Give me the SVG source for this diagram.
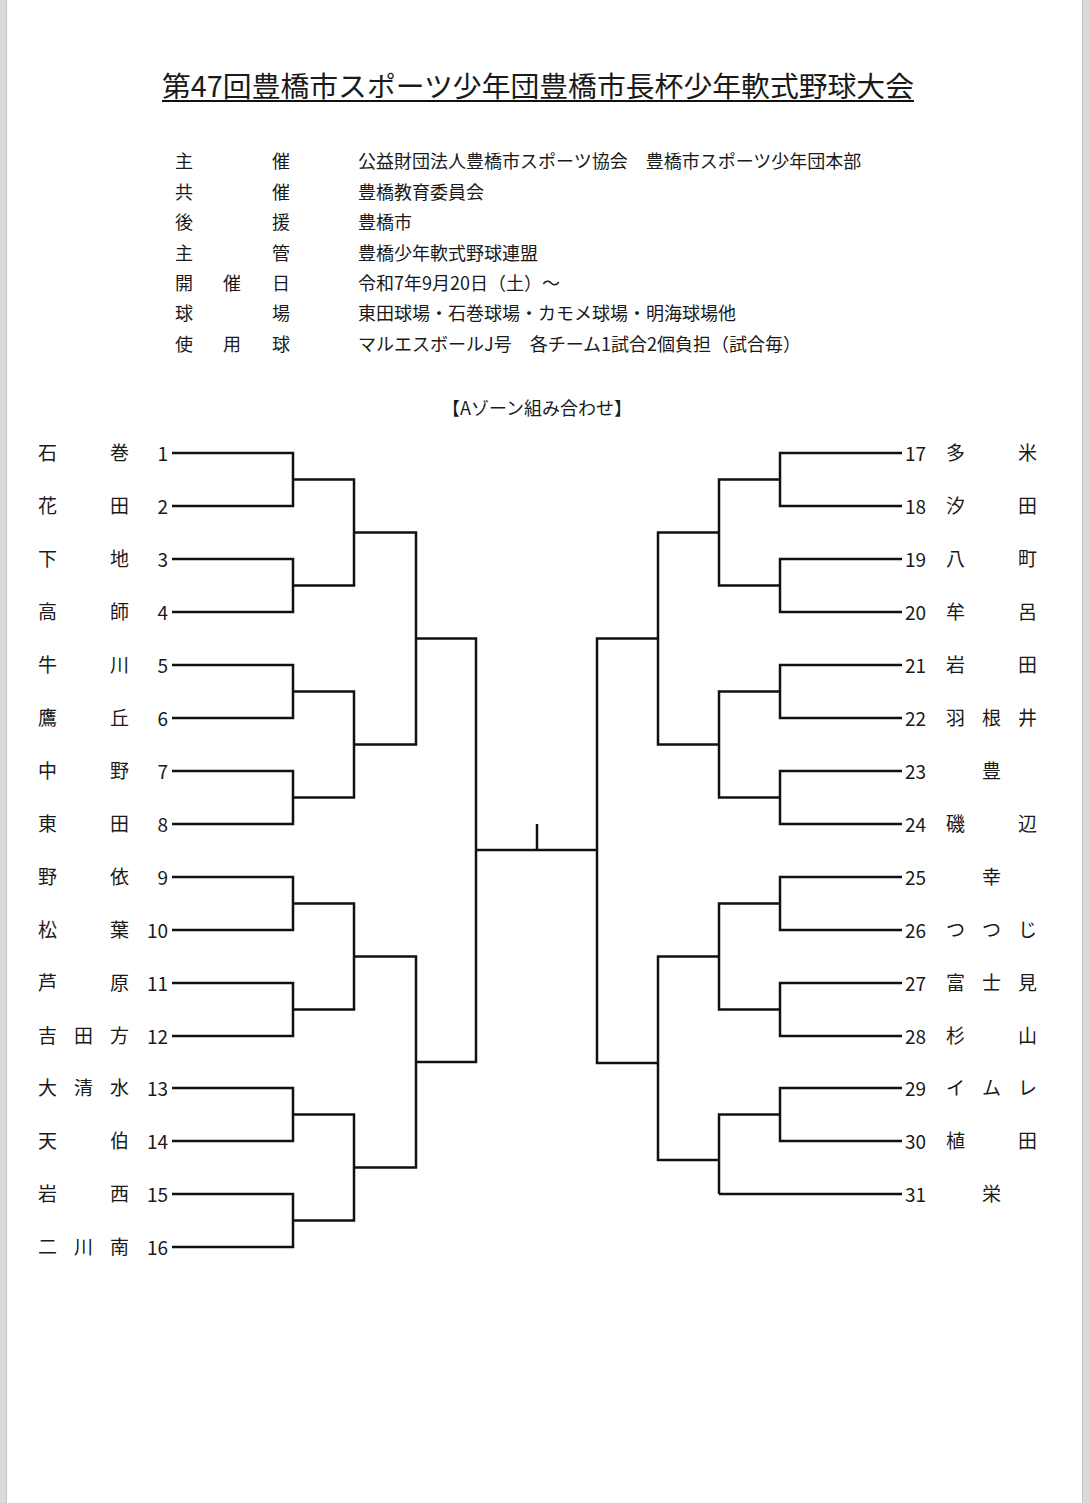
<svg xmlns="http://www.w3.org/2000/svg" width="1089" height="1503" viewBox="0 0 1089 1503">
<style>
.t{font-family:"Noto Sans CJK JP","Noto Sans",sans-serif;fill:#1a1a1a}
.nm{font-size:19px}
.num{font-size:19px}
.info{font-family:"Noto Sans CJK JP",sans-serif;font-size:18px;fill:#1a1a1a}
.ln{fill:none;stroke:#111;stroke-width:2.5;stroke-linejoin:miter;stroke-linecap:butt}
</style>
<rect x="0" y="0" width="1089" height="1503" fill="#ffffff"/>
<rect x="0" y="0" width="6" height="1503" fill="#dadada"/>
<rect x="6" y="0" width="1" height="1503" fill="#c4c4c4"/>
<rect x="1083" y="0" width="6" height="1503" fill="#dadada"/>
<rect x="1082" y="0" width="1" height="1503" fill="#c4c4c4"/>

<g id="title">
<text class="t" x="538" y="97" font-size="28" text-anchor="middle" textLength="752" lengthAdjust="spacingAndGlyphs">第47回豊橋市スポーツ少年団豊橋市長杯少年軟式野球大会</text>
<rect x="162" y="100" width="752" height="2" fill="#111"/>
</g>

<g id="info">
<text class="info" y="168"><tspan x="175">主</tspan><tspan x="272">催</tspan><tspan x="358">公益財団法人豊橋市スポーツ協会　豊橋市スポーツ少年団本部</tspan></text>
<text class="info" y="199"><tspan x="175">共</tspan><tspan x="272">催</tspan><tspan x="358">豊橋教育委員会</tspan></text>
<text class="info" y="229"><tspan x="175">後</tspan><tspan x="272">援</tspan><tspan x="358">豊橋市</tspan></text>
<text class="info" y="260"><tspan x="175">主</tspan><tspan x="272">管</tspan><tspan x="358">豊橋少年軟式野球連盟</tspan></text>
<text class="info" y="290"><tspan x="175">開</tspan><tspan x="223">催</tspan><tspan x="272">日</tspan><tspan x="358">令和7年9月20日（土）～</tspan></text>
<text class="info" y="320"><tspan x="175">球</tspan><tspan x="272">場</tspan><tspan x="358">東田球場・石巻球場・カモメ球場・明海球場他</tspan></text>
<text class="info" y="351"><tspan x="175">使</tspan><tspan x="223">用</tspan><tspan x="272">球</tspan><tspan x="358">マルエスボールJ号　各チーム1試合2個負担（試合毎）</tspan></text>
</g>

<g id="subtitle">
<text class="info" x="537" y="415" font-size="17" text-anchor="middle">【Aゾーン組み合わせ】</text>
</g>

<g id="connectors">
<path class="ln" d="M172 453H293V506H172M172 559H293V612H172M172 665H293V718H172M172 771H293V824H172M172 877H293V930H172M172 983H293V1036H172M172 1088H293V1141H172M172 1194H293V1247H172"/>
<path class="ln" d="M293 479.5H354V585.5H293M293 691.5H354V797.5H293M293 903.5H354V1009.5H293M293 1114.5H354V1220.5H293"/>
<path class="ln" d="M354 532.5H416V744.5H354M354 956.5H416V1167.5H354"/>
<path class="ln" d="M416 638.5H476V1062H416"/>
<path class="ln" d="M476 850H597M537 824V850"/>
<path class="ln" d="M902 453H780V506H902M902 559H780V612H902M902 665H780V718H902M902 771H780V824H902M902 877H780V930H902M902 983H780V1036H902M902 1088H780V1141H902M902 1194H719"/>
<path class="ln" d="M780 479.5H719V585.5H780M780 691.5H719V797.5H780M780 903.5H719V1009.5H780M780 1114.5H719V1194"/>
<path class="ln" d="M719 532.5H658V744.5H719M719 956.5H658V1160H719"/>
<path class="ln" d="M658 638.5H597V1063H658"/>
</g>

<g id="team1"><text class="t nm" y="460"><tspan x="38">石</tspan><tspan x="110">巻</tspan></text><text class="t num" x="168" y="461" text-anchor="end">1</text></g>
<g id="team2"><text class="t nm" y="513"><tspan x="38">花</tspan><tspan x="110">田</tspan></text><text class="t num" x="168" y="514" text-anchor="end">2</text></g>
<g id="team3"><text class="t nm" y="566"><tspan x="38">下</tspan><tspan x="110">地</tspan></text><text class="t num" x="168" y="567" text-anchor="end">3</text></g>
<g id="team4"><text class="t nm" y="619"><tspan x="38">高</tspan><tspan x="110">師</tspan></text><text class="t num" x="168" y="620" text-anchor="end">4</text></g>
<g id="team5"><text class="t nm" y="672"><tspan x="38">牛</tspan><tspan x="110">川</tspan></text><text class="t num" x="168" y="673" text-anchor="end">5</text></g>
<g id="team6"><text class="t nm" y="725"><tspan x="38">鷹</tspan><tspan x="110">丘</tspan></text><text class="t num" x="168" y="726" text-anchor="end">6</text></g>
<g id="team7"><text class="t nm" y="778"><tspan x="38">中</tspan><tspan x="110">野</tspan></text><text class="t num" x="168" y="779" text-anchor="end">7</text></g>
<g id="team8"><text class="t nm" y="831"><tspan x="38">東</tspan><tspan x="110">田</tspan></text><text class="t num" x="168" y="832" text-anchor="end">8</text></g>
<g id="team9"><text class="t nm" y="884"><tspan x="38">野</tspan><tspan x="110">依</tspan></text><text class="t num" x="168" y="885" text-anchor="end">9</text></g>
<g id="team10"><text class="t nm" y="937"><tspan x="38">松</tspan><tspan x="110">葉</tspan></text><text class="t num" x="168" y="938" text-anchor="end">10</text></g>
<g id="team11"><text class="t nm" y="990"><tspan x="38">芦</tspan><tspan x="110">原</tspan></text><text class="t num" x="168" y="991" text-anchor="end">11</text></g>
<g id="team12"><text class="t nm" y="1043"><tspan x="38">吉</tspan><tspan x="74">田</tspan><tspan x="110">方</tspan></text><text class="t num" x="168" y="1044" text-anchor="end">12</text></g>
<g id="team13"><text class="t nm" y="1095"><tspan x="38">大</tspan><tspan x="74">清</tspan><tspan x="110">水</tspan></text><text class="t num" x="168" y="1096" text-anchor="end">13</text></g>
<g id="team14"><text class="t nm" y="1148"><tspan x="38">天</tspan><tspan x="110">伯</tspan></text><text class="t num" x="168" y="1149" text-anchor="end">14</text></g>
<g id="team15"><text class="t nm" y="1201"><tspan x="38">岩</tspan><tspan x="110">西</tspan></text><text class="t num" x="168" y="1202" text-anchor="end">15</text></g>
<g id="team16"><text class="t nm" y="1254"><tspan x="38">二</tspan><tspan x="74">川</tspan><tspan x="110">南</tspan></text><text class="t num" x="168" y="1255" text-anchor="end">16</text></g>

<g id="team17"><text class="t num" x="905" y="461">17</text><text class="t nm" y="460"><tspan x="946">多</tspan><tspan x="1018">米</tspan></text></g>
<g id="team18"><text class="t num" x="905" y="514">18</text><text class="t nm" y="513"><tspan x="946">汐</tspan><tspan x="1018">田</tspan></text></g>
<g id="team19"><text class="t num" x="905" y="567">19</text><text class="t nm" y="566"><tspan x="946">八</tspan><tspan x="1018">町</tspan></text></g>
<g id="team20"><text class="t num" x="905" y="620">20</text><text class="t nm" y="619"><tspan x="946">牟</tspan><tspan x="1018">呂</tspan></text></g>
<g id="team21"><text class="t num" x="905" y="673">21</text><text class="t nm" y="672"><tspan x="946">岩</tspan><tspan x="1018">田</tspan></text></g>
<g id="team22"><text class="t num" x="905" y="726">22</text><text class="t nm" y="725"><tspan x="946">羽</tspan><tspan x="982">根</tspan><tspan x="1018">井</tspan></text></g>
<g id="team23"><text class="t num" x="905" y="779">23</text><text class="t nm" y="778"><tspan x="982">豊</tspan></text></g>
<g id="team24"><text class="t num" x="905" y="832">24</text><text class="t nm" y="831"><tspan x="946">磯</tspan><tspan x="1018">辺</tspan></text></g>
<g id="team25"><text class="t num" x="905" y="885">25</text><text class="t nm" y="884"><tspan x="982">幸</tspan></text></g>
<g id="team26"><text class="t num" x="905" y="938">26</text><text class="t nm" y="937"><tspan x="946">つ</tspan><tspan x="982">つ</tspan><tspan x="1018">じ</tspan></text></g>
<g id="team27"><text class="t num" x="905" y="991">27</text><text class="t nm" y="990"><tspan x="946">富</tspan><tspan x="982">士</tspan><tspan x="1018">見</tspan></text></g>
<g id="team28"><text class="t num" x="905" y="1044">28</text><text class="t nm" y="1043"><tspan x="946">杉</tspan><tspan x="1018">山</tspan></text></g>
<g id="team29"><text class="t num" x="905" y="1096">29</text><text class="t nm" y="1095"><tspan x="946">イ</tspan><tspan x="982">ム</tspan><tspan x="1018">レ</tspan></text></g>
<g id="team30"><text class="t num" x="905" y="1149">30</text><text class="t nm" y="1148"><tspan x="946">植</tspan><tspan x="1018">田</tspan></text></g>
<g id="team31"><text class="t num" x="905" y="1202">31</text><text class="t nm" y="1201"><tspan x="982">栄</tspan></text></g>
</svg>
